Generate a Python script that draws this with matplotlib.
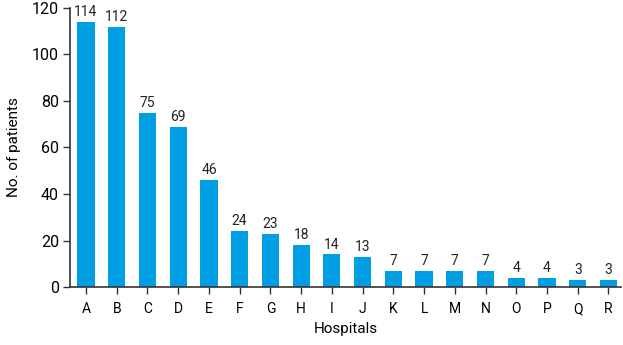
import matplotlib
matplotlib.use("Agg")
import matplotlib.pyplot as plt

hospitals = ["A", "B", "C", "D", "E", "F", "G", "H", "I", "J",
             "K", "L", "M", "N", "O", "P", "Q", "R"]
patients = [114, 112, 75, 69, 46, 24, 23, 18, 14, 13, 7, 7, 7, 7, 4, 4, 3, 3]
y_ticks = [0, 20, 40, 60, 80, 100, 120]

plt.rcParams["font.family"] = ["Roboto", "DejaVu Sans"]

fig = plt.figure(figsize=(6.23, 3.45), dpi=100)
ax = fig.add_axes([0.1124, 0.168, 0.885, 0.809])

x = range(len(hospitals))
ax.bar(x, patients, width=0.56, color="#009fe3", zorder=2)
for xi, v in zip(x, patients):
    ax.text(xi, v + 1.2, str(v), ha="center", va="bottom", fontsize=10, color="#222222")

ax.set_xlim(-0.52, 17.42)
ax.set_ylim(0, 120)
ax.set_xticks(list(x))
ax.set_xticklabels(hospitals, fontsize=10)
ax.set_yticks(y_ticks)
ax.tick_params(axis="y", labelsize=11.5, length=5, width=1, color="#333333", pad=3)
ax.tick_params(axis="x", length=5, width=1, color="#333333", pad=6)

for side in ("top", "right"):
    ax.spines[side].set_visible(False)
for side in ("left", "bottom"):
    ax.spines[side].set_color("#333333")
    ax.spines[side].set_linewidth(1.2)

ax.set_ylabel("No. of patients", fontsize=11, labelpad=8)
ax.set_xlabel("Hospitals", fontsize=11, labelpad=4)

fig.savefig("out.png", dpi=100)
